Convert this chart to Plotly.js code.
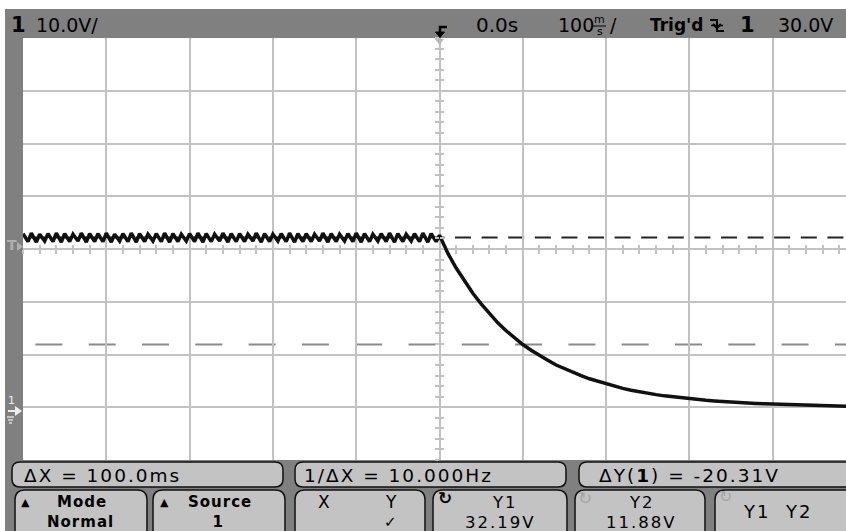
<!DOCTYPE html>
<html><head><meta charset="utf-8">
<script src="https://cdn.plot.ly/plotly-3.0.1.min.js"></script>
<style>
html,body{margin:0;padding:0;background:#fff}
#chart{width:846px;height:531px}
#chart text[style*="Verdana"]{letter-spacing:2px}
#chart text[style*="Tahoma"]{letter-spacing:1px}
</style>
</head><body><div id="chart"></div><script>
// ---------------- data ----------------
const timePerDivMs = 100;          // 100 ms/div
const voltsPerDiv = 10;            // 10.0 V/div
const xRangeMs = [-500, 488];
const yRangeV = [-10, 70];
const centerLevelV = 30;

// ripple before the trigger (one peak + one trough per 10 ms sample)
const rippleStartMs = -500;
const ripplePeriodMs = 10;
const rippleTroughOffsetMs = 6;
const ripplePeaks = [32.9,33.0,32.8,32.9,33.0,32.9,32.8,33.0,32.9,32.9,
                     33.0,32.8,32.9,33.0,32.9,32.8,32.9,33.0,32.9,32.8,
                     32.9,33.0,32.9,32.8,33.0,32.9,32.9,32.8,33.0,32.9,
                     32.8,32.9,33.0,32.9,32.9,32.8,33.0,32.9,32.8,32.9,
                     33.0,32.9,32.8,32.9,33.0,32.9,32.8,32.9,33.0,32.9];
const rippleTroughs = [31.4,31.3,31.5,31.4,31.3,31.4,31.5,31.3,31.4,31.4,
                       31.3,31.5,31.4,31.3,31.4,31.5,31.4,31.3,31.4,31.5,
                       31.4,31.3,31.4,31.5,31.3,31.4,31.4,31.5,31.3,31.4,
                       31.5,31.4,31.3,31.4,31.4,31.5,31.3,31.4,31.5,31.4,
                       31.3,31.4,31.5,31.4,31.3,31.4,31.5,31.4,31.3,31.4];

// decay after the trigger
const decayTimesMs = [0,10,20,30,40,50,60,70,80,90,100,110,120,130,140,150,160,170,180,190,
                      200,210,220,230,240,250,260,270,280,290,300,310,320,330,340,350,360,370,380,390,
                      400,410,420,430,440,450,460,470,480,490];
const decayVolts = [32.6,29.2,26.4,23.9,21.6,19.6,17.7,16.0,14.5,13.1,11.9,10.8,9.8,8.9,8.0,7.3,6.6,6.0,5.4,4.9,
                    4.4,3.95,3.57,3.23,2.92,2.64,2.39,2.16,1.96,1.77,1.60,1.45,1.31,1.19,1.07,0.97,0.88,0.80,0.72,0.65,
                    0.59,0.53,0.48,0.44,0.40,0.36,0.32,0.28,0.24,0.18];

// cursors
const cursorY1 = 32.19;
const cursorY2 = 11.88;

// status / softkey labels
const topLabels = {ch: '1', scale: '10.0V/', delay: '0.0s', time: '100', trig: "Trig'd", trigCh: '1', level: '30.0V'};
const measureLabels = ['ΔX = 100.0ms', '1/ΔX = 10.000Hz', 'ΔY(<b>1</b>) = -20.31V'];
const softkeyTop = ['<b>Mode</b>', '<b>Source</b>', 'X', 'Y1', 'Y2'];
const softkeyBottom = ['<b>Normal</b>', '<b>1</b>', '✓', '32.19V', '11.88V'];

// ---------------- build ----------------
const rx = [], ry = [];
for (let i = 0; i < ripplePeaks.length; i++) {
  rx.push(rippleStartMs + i * ripplePeriodMs); ry.push(ripplePeaks[i]);
  rx.push(rippleStartMs + i * ripplePeriodMs + rippleTroughOffsetMs); ry.push(rippleTroughs[i]);
}
const tx = rx.concat(decayTimesMs), ty = ry.concat(decayVolts);

const L = 23, T = 38, W = 846, H = 531, B = 71;
const PW = W - L, PH = H - T - B;
const px = X => (X - L) / PW;
const py = Y => (H - B - Y) / PH;
const FONT = 'DejaVu Sans';
const WIDE = 'DejaVu Sans, Verdana';
const SEMI = 'DejaVu Sans, Tahoma';

function rr(x0, y0, x1, y1, r) {
  const p = (X, Y) => px(X) + ',' + py(Y);
  return 'M' + p(x0 + r, y0) + ' L' + p(x1 - r, y0) + ' Q' + p(x1, y0) + ' ' + p(x1, y0 + r) +
    ' L' + p(x1, y1 - r) + ' Q' + p(x1, y1) + ' ' + p(x1 - r, y1) +
    ' L' + p(x0 + r, y1) + ' Q' + p(x0, y1) + ' ' + p(x0, y1 - r) +
    ' L' + p(x0, y0 + r) + ' Q' + p(x0, y0) + ' ' + p(x0 + r, y0) + ' Z';
}
function poly(pts, close) {
  return pts.map((q, i) => (i ? 'L' : 'M') + px(q[0]) + ',' + py(q[1])).join(' ') + (close ? ' Z' : '');
}

const shapes = [];
const paperRect = (x0, y0, x1, y1, fill) => shapes.push({type: 'rect', xref: 'paper', yref: 'paper',
  x0: px(x0), x1: px(x1), y0: py(y1), y1: py(y0), fillcolor: fill, line: {width: 0}, layer: 'above'});
paperRect(0, 0, W, 9, '#ffffff');
paperRect(0, 0, 5, H, '#ffffff');

// softkey boxes
const boxFill = '#c3c3c3';
[[12, 462, 283, 487], [295, 462, 566, 487], [579, 462, 870, 487]].forEach(b =>
  shapes.push({type: 'path', xref: 'paper', yref: 'paper', path: rr(b[0], b[1], b[2], b[3], 8),
    fillcolor: boxFill, line: {color: '#111', width: 1.5}, layer: 'above'}));
[[15, 490, 147, 548], [153, 490, 285, 548], [295, 490, 425, 548], [433, 490, 567, 548], [575, 490, 705, 548], [715, 490, 855, 548]].forEach(b =>
  shapes.push({type: 'path', xref: 'paper', yref: 'paper', path: rr(b[0], b[1], b[2], b[3], 10),
    fillcolor: boxFill, line: {color: '#111', width: 1.5}, layer: 'above'}));

// cursors
shapes.push({type: 'line', xref: 'paper', yref: 'y', x0: px(29.4), x1: 1, y0: cursorY1, y1: cursorY1,
  line: {color: '#222', width: 2, dash: '16px,10.6px'}, layer: 'between'});
shapes.push({type: 'line', xref: 'paper', yref: 'y', x0: px(35.4), x1: 1, y0: cursorY2, y1: cursorY2,
  line: {color: '#8a8a8a', width: 2, dash: '27px,26.3px'}, layer: 'between'});

// trigger position marker (top bar) and small triangle
shapes.push({type: 'path', xref: 'paper', yref: 'paper', path: poly([[440, 34], [440, 27], [447, 27]]),
  line: {color: '#000', width: 2.5}, layer: 'above'});
shapes.push({type: 'path', xref: 'paper', yref: 'paper', path: poly([[435.5, 32], [444.5, 32], [440, 37.5]], true),
  fillcolor: '#000', line: {color: '#000', width: 1}, layer: 'above'});
shapes.push({type: 'path', xref: 'paper', yref: 'paper', path: poly([[435, 39], [444, 39], [439.5, 45]], true),
  fillcolor: '#b8b8b8', line: {width: 0}, layer: 'above'});
// trigger slope symbol
shapes.push({type: 'path', xref: 'paper', yref: 'paper', path: poly([[710, 20], [717, 20], [717, 31], [724, 31]]),
  line: {color: '#000', width: 2}, layer: 'above'});
shapes.push({type: 'path', xref: 'paper', yref: 'paper', path: poly([[713, 24], [717, 28], [721, 24]]),
  line: {color: '#000', width: 2}, layer: 'above'});
shapes.push({type: 'line', xref: 'paper', yref: 'paper', x0: px(711), x1: px(723), y0: py(25.5), y1: py(25.5),
  line: {color: '#000', width: 1.5}, layer: 'above'});
// ms underline
shapes.push({type: 'line', xref: 'paper', yref: 'paper', x0: px(593), x1: px(606), y0: py(26), y1: py(26),
  line: {color: '#000', width: 1}, layer: 'above'});
// ground marker (left)
shapes.push({type: 'path', xref: 'paper', yref: 'paper', path: poly([[8, 411], [17, 411]]),
  line: {color: '#eeeeee', width: 2}, layer: 'above'});
shapes.push({type: 'path', xref: 'paper', yref: 'paper', path: poly([[15, 406], [22, 411], [15, 416]], true),
  fillcolor: '#eeeeee', line: {width: 0}, layer: 'above'});
[[7, 14, 417], [8, 13, 420], [9, 12, 423]].forEach(g => shapes.push({type: 'line', xref: 'paper', yref: 'paper',
  x0: px(g[0]), x1: px(g[1]), y0: py(g[2]), y1: py(g[2]), line: {color: '#dddddd', width: 1.5}, layer: 'above'}));
// trigger level marker (left)
shapes.push({type: 'path', xref: 'paper', yref: 'paper', path: poly([[17, 242], [23, 246.5], [17, 251]], true),
  fillcolor: '#b0b0b0', line: {width: 0}, layer: 'above'});

const annotations = [];
const ann = (text, X, Y, size, opts, fam) => annotations.push(Object.assign({
  text: text, xref: 'paper', yref: 'paper', x: px(X), y: py(Y), xanchor: 'center', yanchor: 'middle',
  showarrow: false, font: {family: fam || FONT, size: size, color: '#000'}}, opts || {}));

// top status bar
ann('<b>' + topLabels.ch + '</b>', 18, 25, 21);
ann(topLabels.scale, 67, 25, 19);
ann(topLabels.delay, 497, 25, 20);
ann(topLabels.time, 576, 25, 19);
ann('m', 599.5, 19.5, 11);
ann('s', 599.5, 31, 11);
ann('/', 613, 25, 19);
ann('<b>' + topLabels.trig + '</b>', 676, 25, 17);
ann('<b>' + topLabels.trigCh + '</b>', 747, 25, 21);
ann(topLabels.level, 805, 25, 19);

// left markers
ann('<b>T</b>', 12, 245, 14, {font: {family: FONT, size: 14, color: '#b0b0b0'}});
ann('1', 11, 400, 11, {font: {family: FONT, size: 11, color: '#eeeeee'}});

// measurement row
ann(measureLabels[0], 102, 475, 18.5, null, WIDE);
ann(measureLabels[1], 398, 475, 18.5, null, WIDE);
ann(measureLabels[2], 689, 475, 18.5, null, WIDE);

// softkeys
const L1 = 502, L2 = 522;
ann('▲', 25, 502, 11);
ann(softkeyTop[0], 82, L1, 15, null, SEMI);
ann(softkeyBottom[0], 80, L2, 15, null, SEMI);
ann('▲', 164, 502, 11);
ann(softkeyTop[1], 220, L1, 15, null, SEMI);
ann(softkeyBottom[1], 218, L2, 15, null, SEMI);
ann(softkeyTop[2], 324, L1, 17);
ann('Y', 391, L1, 17);
ann(softkeyBottom[2], 390, L2, 15);
ann('<b>↻</b>', 445, 498, 17);
ann(softkeyTop[3], 505, L1, 16.5, null, WIDE);
ann(softkeyBottom[3], 500, L2, 16.5, null, WIDE);
ann('↻', 585, 498, 17, {font: {family: FONT, size: 17, color: '#a5a5a5'}});
ann(softkeyTop[4], 642, L1, 16.5, null, WIDE);
ann(softkeyBottom[4], 641, L2, 16.5, null, WIDE);
ann('↻', 725, 496, 16, {font: {family: FONT, size: 16, color: '#a5a5a5'}});
ann('Y1  Y2', 777, 511, 18, null, WIDE);

const gridColor = '#c2c2c2';
const baseAx = {showticklabels: false, zeroline: false, showline: false, fixedrange: true};
const layout = {
  width: W, height: H,
  margin: {l: L, r: 0, t: T, b: B, pad: 0},
  paper_bgcolor: '#808080', plot_bgcolor: '#ffffff',
  showlegend: false,
  xaxis: Object.assign({}, baseAx, {range: xRangeMs, dtick: timePerDivMs, tick0: 0, showgrid: true,
    gridcolor: gridColor, gridwidth: 2, ticks: ''}),
  yaxis: Object.assign({}, baseAx, {range: yRangeV, dtick: voltsPerDiv, tick0: 0, showgrid: true,
    gridcolor: gridColor, gridwidth: 2, ticks: ''}),
  xaxis2: Object.assign({}, baseAx, {range: xRangeMs, overlaying: 'x', anchor: 'free',
    position: (centerLevelV - yRangeV[0]) / (yRangeV[1] - yRangeV[0]), showgrid: false,
    ticks: 'outside', ticklen: 4, tickwidth: 2, tickcolor: gridColor, dtick: timePerDivMs / 5, tick0: 0}),
  xaxis3: Object.assign({}, baseAx, {range: xRangeMs, overlaying: 'x', anchor: 'free',
    position: (centerLevelV - yRangeV[0]) / (yRangeV[1] - yRangeV[0]), showgrid: false,
    ticks: 'inside', ticklen: 4, tickwidth: 2, tickcolor: gridColor, dtick: timePerDivMs / 5, tick0: 0}),
  yaxis2: Object.assign({}, baseAx, {range: yRangeV, overlaying: 'y', anchor: 'free',
    position: (0 - xRangeMs[0]) / (xRangeMs[1] - xRangeMs[0]), showgrid: false,
    ticks: 'outside', ticklen: 4, tickwidth: 2, tickcolor: gridColor, dtick: voltsPerDiv / 5, tick0: 0}),
  yaxis3: Object.assign({}, baseAx, {range: yRangeV, overlaying: 'y', anchor: 'free',
    position: (0 - xRangeMs[0]) / (xRangeMs[1] - xRangeMs[0]), showgrid: false,
    ticks: 'inside', ticklen: 4, tickwidth: 2, tickcolor: gridColor, dtick: voltsPerDiv / 5, tick0: 0}),
  shapes: shapes,
  annotations: annotations
};

const data = [
  {x: [], y: [], xaxis: 'x2', yaxis: 'y2', type: 'scatter', mode: 'lines', hoverinfo: 'skip'},
  {x: [], y: [], xaxis: 'x3', yaxis: 'y3', type: 'scatter', mode: 'lines', hoverinfo: 'skip'},
  {x: tx, y: ty, xaxis: 'x', yaxis: 'y', type: 'scatter', mode: 'lines',
   line: {color: '#111111', width: 3.5}, hoverinfo: 'skip'}
];
Plotly.newPlot('chart', data, layout, {displayModeBar: false, staticPlot: true});
</script></body></html>
